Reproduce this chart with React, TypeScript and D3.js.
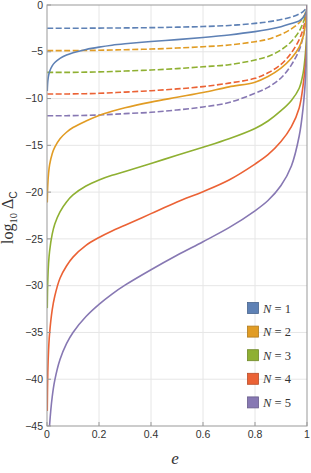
import React from 'react';
import * as d3 from 'd3';

// eccentricity samples shared by every curve
const eGrid = [
  0.001, 0.003, 0.006, 0.01, 0.02, 0.03, 0.05, 0.075, 0.1, 0.15, 0.2, 0.25, 0.3,
  0.4, 0.5, 0.6, 0.7, 0.8, 0.85, 0.9, 0.94, 0.97, 0.985, 0.995, 0.999, 1,
];

// solid curves (log10 of Delta_C), one per N
const solidN1 = [-9.2, -8.15, -7.55, -7.1, -6.5, -6.15, -5.7, -5.35, -5.1, -4.75, -4.5, -4.3, -4.15, -3.9, -3.7, -3.47, -3.2, -2.85, -2.62, -2.32, -1.98, -1.7, -1.35, -0.9, -0.5, 0];
const solidN2 = [-21.1, -19.2, -18.0, -17.1, -15.9, -15.2, -14.3, -13.6, -13.1, -12.4, -11.8, -11.35, -10.98, -10.38, -9.86, -9.35, -8.75, -8.25, -7.65, -6.75, -5.7, -4.5, -3.4, -1.9, -0.9, 0];
const solidN3 = [-32.4, -29.4, -27.6, -26.3, -24.5, -23.4, -22.1, -21.05, -20.3, -19.35, -18.7, -18.2, -17.8, -16.95, -16.05, -15.2, -14.3, -13.2, -12.4, -11.3, -10.2, -8.9, -7.3, -4.8, -2.8, 0];
const solidN4 = [-43.4, -39.3, -36.9, -35.1, -32.6, -31.1, -29.2, -27.9, -26.95, -25.7, -24.85, -24.15, -23.55, -22.3, -21.05, -19.95, -18.7, -17.0, -16.0, -14.6, -13.0, -11.0, -8.6, -6.0, -3.7, 0];
const solidN5 = [-54.9, -50.1, -47.1, -44.9, -41.9, -40.1, -37.9, -36.2, -35.0, -33.3, -32.0, -30.9, -29.95, -28.3, -26.75, -25.3, -23.8, -22.0, -20.9, -19.3, -17.2, -14.0, -11.0, -7.5, -4.8, 0];

// dashed curves, one per N
const dashedN1 = [-2.49, -2.49, -2.49, -2.49, -2.49, -2.49, -2.49, -2.49, -2.49, -2.48, -2.47, -2.46, -2.45, -2.42, -2.37, -2.3, -2.19, -1.96, -1.8, -1.55, -1.28, -0.95, -0.7, -0.4, -0.2, 0];
const dashedN2 = [-4.88, -4.88, -4.88, -4.88, -4.88, -4.88, -4.88, -4.88, -4.88, -4.86, -4.84, -4.81, -4.78, -4.71, -4.6, -4.46, -4.28, -3.92, -3.65, -3.15, -2.55, -1.9, -1.35, -0.75, -0.35, 0];
const dashedN3 = [-7.2, -7.2, -7.2, -7.2, -7.2, -7.2, -7.2, -7.2, -7.2, -7.18, -7.15, -7.11, -7.06, -6.95, -6.8, -6.6, -6.38, -5.88, -5.5, -4.8, -3.9, -2.8, -1.9, -1.05, -0.5, 0];
const dashedN4 = [-9.51, -9.51, -9.51, -9.51, -9.51, -9.51, -9.51, -9.51, -9.5, -9.48, -9.44, -9.38, -9.31, -9.16, -8.97, -8.72, -8.35, -7.84, -7.25, -6.35, -5.1, -3.7, -2.55, -1.4, -0.65, 0];
const dashedN5 = [-11.83, -11.83, -11.83, -11.83, -11.83, -11.83, -11.83, -11.83, -11.82, -11.8, -11.75, -11.69, -11.61, -11.47, -11.22, -10.9, -10.42, -9.44, -8.8, -7.8, -6.4, -4.8, -3.4, -1.8, -0.8, 0];

const seriesNames = ['1', '2', '3', '4', '5'];
const seriesColors = ['#5E81B5', '#E19C24', '#8FB032', '#EB6235', '#8778B3'];
const solidSeries = [solidN1, solidN2, solidN3, solidN4, solidN5];
const dashedSeries = [dashedN1, dashedN2, dashedN3, dashedN4, dashedN5];

const xTicks = [0, 0.2, 0.4, 0.6, 0.8, 1];
const xTickLabels = ['0', '0.2', '0.4', '0.6', '0.8', '1'];
const yTicks = [0, -5, -10, -15, -20, -25, -30, -35, -40, -45];

const W = 311;
const H = 473;
const margin = { top: 5, right: 4, bottom: 47, left: 47 };

const App: React.FC = () => {
  const x = d3.scaleLinear().domain([0, 1]).range([margin.left, W - margin.right]);
  const y = d3.scaleLinear().domain([0, -45]).range([margin.top, H - margin.bottom]);

  const line = d3.line<[number, number]>()
    .x(d => x(d[0]))
    .y(d => y(d[1]))
    .curve(d3.curveCatmullRom.alpha(0.5));

  const toPts = (vals: number[]) => eGrid.map((e, i) => [e, vals[i]] as [number, number]);

  const [x0, x1] = x.range();
  const [y0, y1] = y.range();
  const fmt = (v: number) => (v < 0 ? '\u2212' + Math.abs(v) : String(v));

  return (
    <svg width={W} height={H} style={{ position: 'absolute', left: 0, top: 0, background: '#fff' }}>
      <defs>
        <clipPath id="plot">
          <rect x={x0} y={y0} width={x1 - x0} height={y1 - y0} />
        </clipPath>
      </defs>

      {/* grid */}
      <g stroke="#e6e6e6" strokeWidth={1}>
        {xTicks.slice(1, -1).map(t => (
          <line key={'gx' + t} x1={x(t)} x2={x(t)} y1={y0} y2={y1} />
        ))}
        {yTicks.slice(1, -1).map(t => (
          <line key={'gy' + t} x1={x0} x2={x1} y1={y(t)} y2={y(t)} />
        ))}
      </g>

      {/* curves */}
      <g clipPath="url(#plot)" fill="none" strokeWidth={1.6}>
        {dashedSeries.map((vals, i) => (
          <path key={'d' + i} d={line(toPts(vals)) || ''} stroke={seriesColors[i]} strokeDasharray="6,2.5" />
        ))}
        {solidSeries.map((vals, i) => (
          <path key={'s' + i} d={line(toPts(vals)) || ''} stroke={seriesColors[i]} />
        ))}
      </g>

      {/* frame */}
      <rect x={x0} y={y0} width={x1 - x0} height={y1 - y0} fill="none" stroke="#999" strokeWidth={1} />
      <g stroke="#999" strokeWidth={1}>
        {xTicks.map(t => (
          <line key={'tx' + t} x1={x(t)} x2={x(t)} y1={y1} y2={y1 - 4} />
        ))}
        {yTicks.map(t => (
          <line key={'ty' + t} x1={x0} x2={x0 + 4} y1={y(t)} y2={y(t)} />
        ))}
      </g>

      {/* tick labels */}
      <g fontFamily="'Liberation Sans', Arial, sans-serif" fontSize={10.5} fill="#333">
        {xTicks.map((t, i) => (
          <text key={'lx' + t} x={x(t)} y={y1 + 12} textAnchor="middle">{xTickLabels[i]}</text>
        ))}
        {yTicks.map(t => (
          <text key={'ly' + t} x={x0 - 4} y={y(t)} dy="0.35em" textAnchor="end">{fmt(t)}</text>
        ))}
      </g>

      {/* axis labels */}
      <text x={175} y={464} fontFamily="'Liberation Serif', 'Times New Roman', serif" fontStyle="italic" fontSize={17} fill="#333" textAnchor="middle">e</text>
      <text
        transform={`translate(13,${(y0 + y1) / 2 + 2}) rotate(-90)`}
        fontFamily="'Liberation Serif', 'Times New Roman', serif"
        fontSize={16}
        fill="#333"
        textAnchor="middle"
      >
        log<tspan fontSize={10.5} dy={4}>10</tspan>
        <tspan dy={-4} dx={4}>Δ</tspan>
        <tspan fontSize={10.5} dy={4} fontFamily="'Liberation Sans', Arial, sans-serif">C</tspan>
      </text>

      {/* legend */}
      <g>
        {seriesNames.map((n, i) => {
          const ly = 302.5 + i * 23.6;
          const c = d3.color(seriesColors[i]);
          return (
            <g key={'lg' + n}>
              <rect x={247.5} y={ly} width={11} height={11} fill={seriesColors[i]} stroke={c ? c.darker(0.7).toString() : '#000'} strokeWidth={0.8} />
              <text x={263} y={ly + 10} fontFamily="'Liberation Serif', 'Times New Roman', serif" fontSize={12.5} fill="#333">
                <tspan fontStyle="italic">N</tspan> = {n}
              </text>
            </g>
          );
        })}
      </g>
    </svg>
  );
};

export default App;
